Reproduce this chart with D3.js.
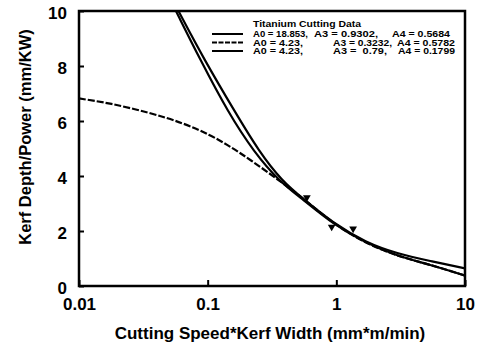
<!DOCTYPE html>
<html>
<head>
<meta charset="utf-8">
<script src="https://cdn.jsdelivr.net/npm/d3@7"></script>
<style>
  body { margin: 0; background: #fff; }
  svg { display: block; font-family: "Liberation Sans", Arial, sans-serif; }
</style>
</head>
<body>
<svg id="chart"></svg>
<script>
// --- data ---
const xTicks = [0.01, 0.1, 1, 10];
const xTickLabels = ["0.01", "0.1", "1", "10"];
const yTicks = [0, 2, 4, 6, 8, 10];

// A0 = 18.853 (solid)
const curve1X = [0.0567, 0.087, 0.145, 0.229, 0.365, 0.55, 0.94, 1.7, 2.96, 5.34, 10];
const curve1Y = [10, 8.25, 6.29, 4.87, 3.78, 3.15, 2.25, 1.56, 1.09, 0.78, 0.38];

// A0 = 4.23, A3 = 0.3232 (dashed)
const curve2X = [0.01, 0.0174, 0.0356, 0.0643, 0.104, 0.149, 0.213, 0.345, 0.55, 0.94, 1.7, 2.96, 5.34, 10];
const curve2Y = [6.82, 6.65, 6.3, 5.93, 5.5, 5.08, 4.6, 3.9, 3.2, 2.27, 1.55, 1.09, 0.78, 0.38];

// A0 = 4.23, A3 = 0.79 (solid)
const curve3X = [0.0593, 0.0935, 0.165, 0.25, 0.378, 0.55, 0.94, 1.7, 2.96, 5.34, 10];
const curve3Y = [10, 8.25, 6.29, 4.9, 3.82, 3.18, 2.29, 1.58, 1.18, 0.91, 0.64];

// measured points (triangles)
const pointsX = [0.59, 0.92, 1.35];
const pointsY = [3.22, 2.15, 2.08];

const legendTitle = "Titanium Cutting Data";
const legendA0 = ["A0 = 18.853,", "A0 = 4.23,", "A0 = 4.23,"];
const legendA3 = ["A3 = 0.9302,", "A3 = 0.3232,", "A3 =  0.79,"];
const legendA4 = ["A4 = 0.5684", "A4 = 0.5782", "A4 = 0.1799"];

const W = 479, H = 349;
const margin = { top: 11, right: 14, bottom: 63, left: 79 };
const width = W - margin.left - margin.right;
const height = H - margin.top - margin.bottom;

const svg = d3.select("#chart").attr("width", W).attr("height", H);
svg.append("rect").attr("width", W).attr("height", H).attr("fill", "#fff");

const g = svg.append("g").attr("transform", `translate(${margin.left},${margin.top})`);

const x = d3.scaleLog().domain([0.01, 10]).range([0, width]);
const y = d3.scaleLinear().domain([0, 10]).range([height, 0]);

g.append("clipPath").attr("id", "clip")
  .append("rect").attr("width", width).attr("height", height);

// --- axes ---
const xAxis = g.append("g")
  .attr("transform", `translate(0,${height})`)
  .call(d3.axisBottom(x).tickValues(xTicks).tickFormat((d, i) => xTickLabels[i])
    .tickSizeInner(-6).tickSizeOuter(0).tickPadding(12));

const yAxis = g.append("g")
  .call(d3.axisLeft(y).tickValues(yTicks).tickFormat(d3.format("d"))
    .tickSizeInner(-5).tickSizeOuter(0).tickPadding(12));

[xAxis, yAxis].forEach(a => {
  a.select(".domain").remove();
  a.selectAll("line").attr("stroke", "#000").attr("stroke-width", 2);
  a.selectAll("text").attr("fill", "#000").style("font-size", "17px").style("font-weight", "bold");
});
yAxis.selectAll("text").attr("dy", "0.45em");

// frame
g.append("rect")
  .attr("width", width).attr("height", height)
  .attr("fill", "none").attr("stroke", "#000").attr("stroke-width", 2.5);

svg.append("text")
  .attr("x", margin.left + width / 2 - 2).attr("y", 339)
  .attr("text-anchor", "middle")
  .style("font-size", "17px").style("font-weight", "bold")
  .text("Cutting Speed*Kerf Width (mm*m/min)");

svg.append("text")
  .attr("transform", `translate(31,${margin.top + 126}) rotate(-90)`)
  .attr("text-anchor", "middle")
  .style("font-size", "16.5px").style("font-weight", "bold")
  .text("Kerf Depth/Power (mm/KW)");

// --- curves ---
const line = d3.line()
  .x(d => x(d[0])).y(d => y(d[1]))
  .curve(d3.curveBasis);

const series = [
  { xs: curve1X, ys: curve1Y, dash: null },
  { xs: curve2X, ys: curve2Y, dash: "7,2" },
  { xs: curve3X, ys: curve3Y, dash: null }
];

const curves = g.append("g").attr("clip-path", "url(#clip)");
series.forEach(s => {
  curves.append("path")
    .datum(s.xs.map((v, i) => [v, s.ys[i]]))
    .attr("d", line)
    .attr("fill", "none")
    .attr("stroke", "#000")
    .attr("stroke-width", 2.2)
    .attr("stroke-dasharray", s.dash);
});

g.selectAll(".pt")
  .data(pointsX.map((v, i) => [v, pointsY[i]]))
  .enter().append("path")
  .attr("class", "pt")
  .attr("d", d3.symbol().type(d3.symbolTriangle).size(26))
  .attr("transform", d => `translate(${x(d[0])},${y(d[1])}) rotate(180)`)
  .attr("fill", "#000");

// --- legend ---
const legend = svg.append("g").style("font-size", "8.5px").style("font-weight", "bold");
legend.append("text").attr("x", 253).attr("y", 27)
  .attr("textLength", 108).attr("lengthAdjust", "spacingAndGlyphs").text(legendTitle);

const rowY = [37, 45.5, 54];
// column starts and widths measured on the reference legend
const a0W = [55, 50, 50];
const a3X = [314, 333, 333], a3W = [64, 59, 54];
const a4X = [392, 397, 398], a4W = [58, 58, 57];

function legText(str, x0, y0, w) {
  legend.append("text").attr("x", x0).attr("y", y0)
    .attr("xml:space", "preserve")
    .attr("textLength", w).attr("lengthAdjust", "spacingAndGlyphs")
    .text(str);
}

series.forEach((s, i) => {
  legend.append("line")
    .attr("x1", 212).attr("x2", 243)
    .attr("y1", rowY[i] - 3).attr("y2", rowY[i] - 3)
    .attr("stroke", "#000").attr("stroke-width", 2)
    .attr("stroke-dasharray", s.dash ? "5,1.5" : null);
  legText(legendA0[i], 253, rowY[i], a0W[i]);
  legText(legendA3[i], a3X[i], rowY[i], a3W[i]);
  legText(legendA4[i], a4X[i], rowY[i], a4W[i]);
});
</script>
</body>
</html>
